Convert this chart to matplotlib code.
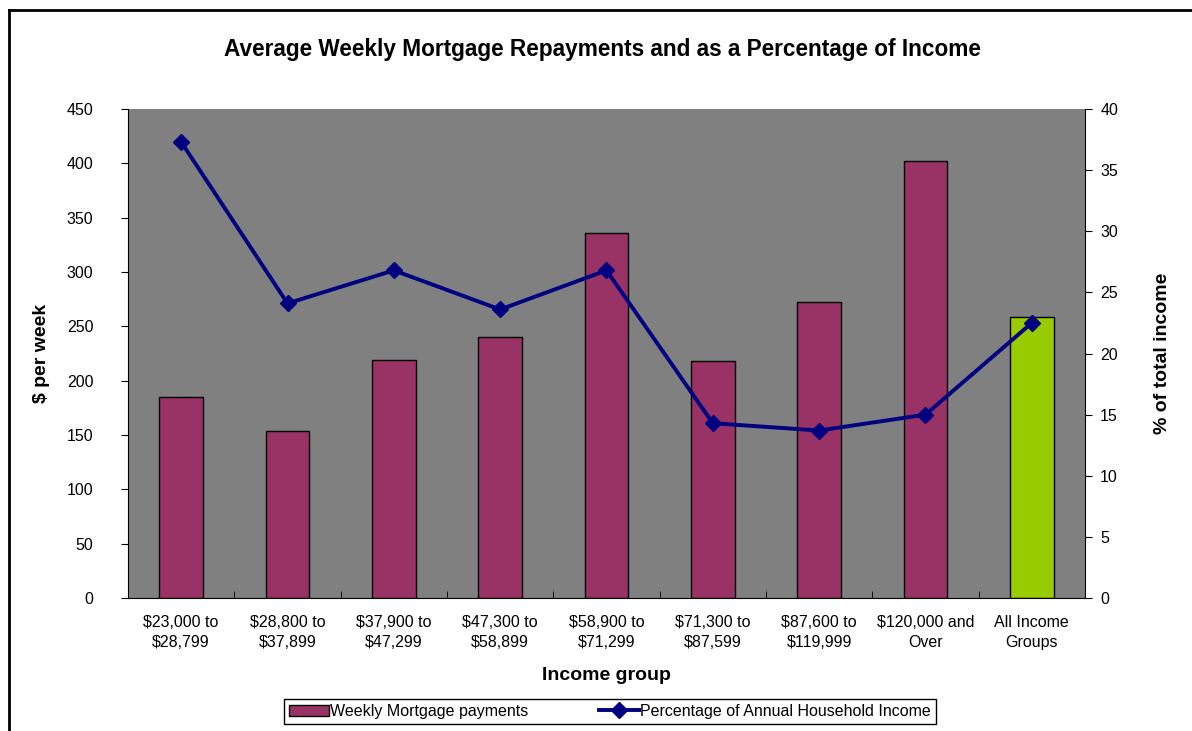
import matplotlib
matplotlib.use("Agg")
import matplotlib.pyplot as plt
from matplotlib.lines import Line2D

plt.rcParams['font.family'] = ['Liberation Sans', 'DejaVu Sans']

groups = ["$23,000 to\n$28,799", "$28,800 to\n$37,899", "$37,900 to\n$47,299",
          "$47,300 to\n$58,899", "$58,900 to\n$71,299", "$71,300 to\n$87,599",
          "$87,600 to\n$119,999", "$120,000 and\nOver", "All Income\nGroups"]
weekly = [185, 154, 219, 240, 336, 218, 272, 402, 259]
pct_income = [37.3, 24.1, 26.8, 23.6, 26.8, 14.3, 13.7, 15.0, 22.5]
bar_colors = ['#993366'] * 8 + ['#99cc00']

fig = plt.figure(figsize=(11.92, 7.31), dpi=100)
ax = fig.add_axes([0.1074, 0.1819, 0.8028, 0.669])
ax.set_facecolor('#808080')

x = list(range(len(groups)))
bars = ax.bar(x, weekly, width=0.41, color=bar_colors, edgecolor='black', linewidth=1,
              label='Weekly Mortgage payments', zorder=2)
ax.set_xlim(-0.5, len(groups) - 0.5)
ax.set_ylim(0, 450)
ax.set_yticks(range(0, 451, 50))
ax.set_xticks(x)
ax.set_xticklabels(groups, fontsize=11.5, linespacing=1.45)
ax.tick_params(axis='x', length=0, pad=12)
ax.set_xticks([i + 0.5 for i in x[:-1]], minor=True)
ax.tick_params(axis='x', which='minor', direction='in', length=5)
ax.tick_params(axis='y', direction='out', length=5, labelsize=11.5, pad=20)
for s in ['top', 'right']:
    ax.spines[s].set_visible(False)
ax.set_ylabel('$ per week', fontsize=14, fontweight='bold', labelpad=12)
ax.set_xlabel('Income group', fontsize=14, fontweight='bold', labelpad=12)

ax2 = ax.twinx()
line, = ax2.plot(x, pct_income, color='#000080', linewidth=2.8, marker='D', markersize=8,
                 label='Percentage of Annual Household Income', zorder=3)
ax2.set_ylim(0, 40)
ax2.set_yticks(range(0, 41, 5))
ax2.tick_params(axis='y', direction='out', length=5, labelsize=11.5, pad=6)
for s in ['top', 'left', 'bottom']:
    ax2.spines[s].set_visible(False)
ax2.set_ylabel('% of total income', fontsize=14, fontweight='bold', labelpad=26)

fig.text(0.505, 0.932, 'Average Weekly Mortgage Repayments and as a Percentage of Income',
         ha='center', va='center', fontsize=16.3, fontweight='bold')

leg = fig.legend([bars, line], ['Weekly Mortgage payments', 'Percentage of Annual Household Income'],
                 loc='center', bbox_to_anchor=(0.5117, 0.0267), ncol=2, fontsize=11.5,
                 fancybox=False, edgecolor='black', framealpha=1, columnspacing=4.4,
                 handlelength=2.5, handletextpad=0.1, borderpad=0.3)
leg.get_frame().set_linewidth(1)

# outer chart border (only top and left visible in crop)
fig.add_artist(Line2D([0.0075, 1.0], [0.9863, 0.9863], color='black', linewidth=2))
fig.add_artist(Line2D([0.0075, 0.0075], [0.0, 0.9863], color='black', linewidth=2))

fig.savefig('out.png', dpi=100)
